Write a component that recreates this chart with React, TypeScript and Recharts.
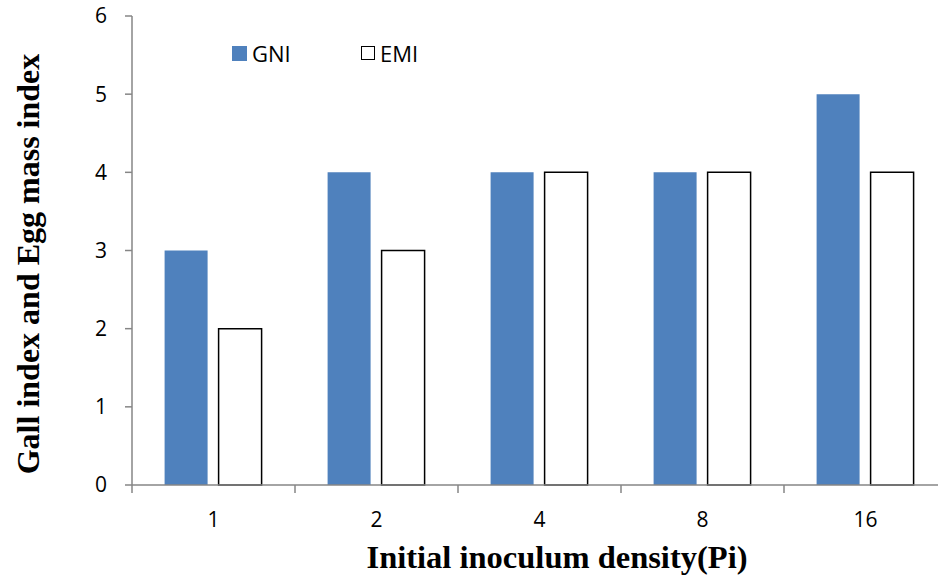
import { BarChart, Bar, XAxis, YAxis, Legend } from "recharts";

const categories = ["1", "2", "4", "8", "16"];
const gniValues = [3, 4, 4, 4, 5];
const emiValues = [2, 3, 4, 4, 4];
const yTicks = [0, 1, 2, 3, 4, 5, 6];
const seriesOrder = ["GNI", "EMI"];

const data = categories.map((c, i) => ({ pi: c, GNI: gniValues[i], EMI: emiValues[i] }));

const W = 960;
const H = 579;
const MARGIN = { top: 16, right: 13, bottom: 0, left: 72 };
const Y_W = 60;
const X_H = 94;
const BAND = (W - MARGIN.left - MARGIN.right - Y_W) / categories.length;
const AXIS_Y = H - MARGIN.bottom - X_H;

const SANS = "'Open Sans', 'Liberation Sans', sans-serif";
const SERIF = "'Liberation Serif', 'Times New Roman', serif";
const AXIS = "#868686";
const BLUE = "#4F81BD";

function XTick(props: any) {
  const { x, payload } = props;
  const left = x - BAND / 2;
  return (
    <g>
      <line x1={left} x2={left} y1={AXIS_Y} y2={AXIS_Y + 8} stroke={AXIS} strokeWidth={1.5} />
      <text x={x} y={AXIS_Y + 42} textAnchor="middle" fontFamily={SANS} fontSize={21} fill="#000">
        {payload.value}
      </text>
    </g>
  );
}

function YTitle() {
  return (
    <text
      x={39}
      y={264}
      transform="rotate(-90 39 264)"
      textAnchor="middle"
      fontFamily={SERIF}
      fontWeight="bold"
      fontSize={32}
      fill="#000"
    >
      Gall index and Egg mass index
    </text>
  );
}

function XTitle() {
  return (
    <text x={557} y={568} textAnchor="middle" fontFamily={SERIF} fontWeight="bold" fontSize={32.5} fill="#000">
      Initial inoculum density(Pi)
    </text>
  );
}

function LegendContent(props: any) {
  const items = [...(props.payload || [])].sort(
    (a: any, b: any) => seriesOrder.indexOf(a.dataKey) - seriesOrder.indexOf(b.dataKey)
  );
  return (
    <div style={{ display: "flex", fontFamily: SANS, fontSize: 22, color: "#000", lineHeight: "26px" }}>
      {items.map((p: any) => {
        const hollow = p.dataKey === "EMI";
        return (
          <div key={p.value} style={{ display: "flex", alignItems: "center", width: 129 }}>
            <span
              style={{
                display: "inline-block",
                width: hollow ? 12 : 15,
                height: hollow ? 12 : 15,
                background: hollow ? "#fff" : BLUE,
                border: hollow ? "1.5px solid #000" : "none",
              }}
            />
            <span style={{ marginLeft: 5 }}>{p.value}</span>
          </div>
        );
      })}
    </div>
  );
}

export default function App() {
  return (
    <div style={{ position: "absolute", left: 0, top: 0, width: 938, height: 579, overflow: "hidden", background: "#fff" }}>
      <BarChart width={W} height={H} data={data} margin={MARGIN} barCategoryGap="20%" barGap={11}>
        <XAxis
          dataKey="pi"
          height={X_H}
          stroke={AXIS}
          strokeWidth={1.5}
          tickLine={false}
          tickSize={8}
          tick={<XTick />}
          interval={0}
          label={<XTitle />}
        />
        <YAxis
          width={Y_W}
          domain={[0, 6]}
          ticks={yTicks}
          interval={0}
          stroke={AXIS}
          strokeWidth={1.5}
          tickSize={7}
          tickMargin={18}
          tick={{ fill: "#000", fontFamily: SANS, fontSize: 21 }}
          label={<YTitle />}
        />
        <Legend
          layout="vertical"
          align="center"
          verticalAlign="middle"
          content={<LegendContent />}
          wrapperStyle={{ left: 232, top: 40, width: 320, height: 26 }}
        />
        <Bar dataKey="GNI" name="GNI" fill={BLUE} isAnimationActive={false} />
        <Bar dataKey="EMI" name="EMI" fill="#fff" stroke="#000" strokeWidth={1.5} isAnimationActive={false} />
      </BarChart>
    </div>
  );
}
